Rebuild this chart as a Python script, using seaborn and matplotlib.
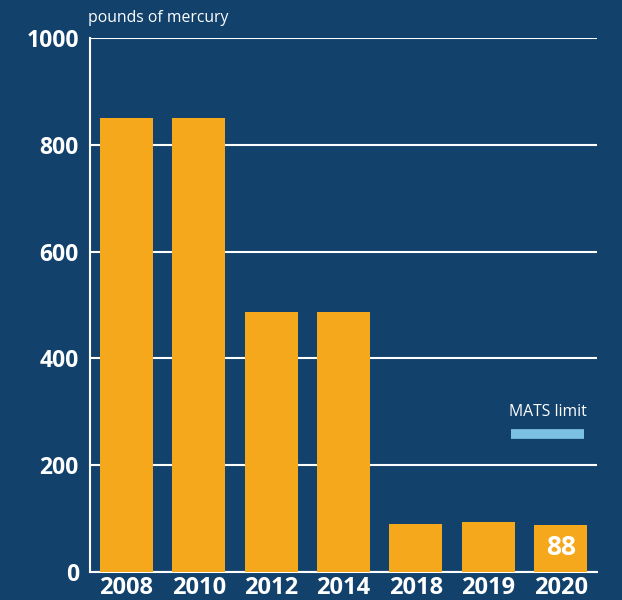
import numpy as np
import pandas as pd
import matplotlib
matplotlib.use("Agg")
import matplotlib.pyplot as plt
import seaborn as sns

# data
years = ["2008", "2010", "2012", "2014", "2018", "2019", "2020"]
mercury = [850, 850, 487, 487, 90, 94, 88]
mats_limit = 258
y_ticks = [0, 200, 400, 600, 800, 1000]

bg = "#12416b"
orange = "#f6a81c"
light_blue = "#7cc0e4"

sns.set_style("white")
plt.rcParams["font.family"] = ["Open Sans", "DejaVu Sans"]

df = pd.DataFrame({"year": years, "lbs": mercury})

fig = plt.figure(figsize=(6.22, 6.0), dpi=100, facecolor=bg)
ax = fig.add_axes([90 / 622, 28 / 600, 507 / 622, 534 / 600])
ax.set_facecolor(bg)

sns.barplot(data=df, x="year", y="lbs", color=orange, width=0.73,
            saturation=1, linewidth=0, ax=ax, zorder=3)

ax.set_xlim(-0.5, len(years) - 0.5)
ax.set_ylim(0, 1000)
ax.set_yticks(y_ticks)
ax.yaxis.grid(True, color="white", linewidth=1.5, zorder=0)
ax.set_axisbelow(True)

for s in ["top", "right"]:
    ax.spines[s].set_visible(False)
for s in ["left", "bottom"]:
    ax.spines[s].set_color("white")
    ax.spines[s].set_linewidth(1.5)

ax.tick_params(axis="y", length=0, pad=8, labelsize=16.5, labelcolor="white")
ax.tick_params(axis="x", which="major", length=0, pad=3, labelsize=17, labelcolor="white")
for lbl in ax.get_xticklabels() + ax.get_yticklabels():
    lbl.set_fontweight("bold")
ax.set_xticks(np.arange(len(years)) + 0.5, minor=True)
ax.tick_params(axis="x", which="minor", direction="in", length=8, width=1.5, color="white")
ax.set_xlabel("")
ax.set_ylabel("")

# value label on the last bar
ax.text(len(years) - 1, mercury[-1] / 2 + 2, str(mercury[-1]), color="white",
        fontsize=19, fontweight="bold", ha="center", va="center", zorder=4)

# MATS limit key
ax.hlines(mats_limit, 5.31, 6.32, color=light_blue, linewidth=7, zorder=4)
ax.text(5.815, mats_limit + 42, "MATS limit", color="white", fontsize=11.3,
        ha="center", va="center")

fig.text(88 / 622, 1 - 18 / 600, "pounds of mercury", color="white",
         fontsize=11.3, ha="left", va="center")

fig.savefig("out.png", dpi=100, facecolor=bg)
